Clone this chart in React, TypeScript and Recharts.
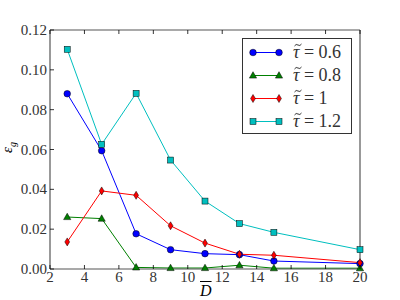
import React from 'react';
import { LineChart, Line, XAxis, YAxis } from 'recharts';

const dValues = [3, 5, 7, 9, 11, 13, 15, 20];
const tau06 = [0.088, 0.0594, 0.0177, 0.0097, 0.0077, 0.0072, 0.004, 0.0027];
const tau08 = [0.0261, 0.0253, 0.0008, 0.0005, 0.0005, 0.0019, 0.0004, 0.0004];
const tau1 = [0.0136, 0.0392, 0.037, 0.0217, 0.013, 0.0074, 0.0069, 0.0032];
const tau12 = [0.1103, 0.0626, 0.0882, 0.0547, 0.0341, 0.0228, 0.0184, 0.0097];
const xTicks = [2, 4, 6, 8, 10, 12, 14, 16, 18, 20];
const yTicks = [0, 0.02, 0.04, 0.06, 0.08, 0.1, 0.12];
const seriesLabels = ['0.6', '0.8', '1', '1.2'];

const data = dValues.map((d, i) => ({ d, a: tau06[i], b: tau08[i], c: tau1[i], e: tau12[i] }));

const FONT = '"Liberation Serif", serif';
const TL = 4;
const MARGIN = 8;

const Marker = ({ kind, cx, cy, color }: any) => {
  if (cx == null || cy == null) return null;
  if (kind === 'circle') return <circle cx={cx} cy={cy} r={3.3} fill={color} stroke="#000" strokeWidth={0.5} />;
  if (kind === 'tri')
    return <polygon points={`${cx},${cy - 3.8} ${cx + 3.6},${cy + 2.6} ${cx - 3.6},${cy + 2.6}`} fill={color} stroke="#000" strokeWidth={0.5} />;
  if (kind === 'diamond')
    return <polygon points={`${cx},${cy - 4} ${cx + 2.4},${cy} ${cx},${cy + 4} ${cx - 2.4},${cy}`} fill={color} stroke="#000" strokeWidth={0.5} />;
  return <rect x={cx - 3} y={cy - 3} width={6} height={6} fill={color} stroke="#000" strokeWidth={0.5} />;
};

const series = [
  { key: 'a', color: '#0000ff', kind: 'circle' },
  { key: 'b', color: '#008000', kind: 'tri' },
  { key: 'c', color: '#ff0000', kind: 'diamond' },
  { key: 'e', color: '#00bfbf', kind: 'square' },
];

const BottomTick = (props: any) => {
  const { x, y, payload } = props;
  const ay = y - MARGIN;
  return (
    <g>
      <line x1={x} x2={x} y1={ay} y2={ay - TL} stroke="#000" strokeWidth={0.8} />
      <text x={x} y={ay + 13} textAnchor="middle" style={{ fontFamily: FONT, fontSize: 15 }} fill="#333">{payload.value}</text>
    </g>
  );
};
const TopTick = (props: any) => {
  const { x, y } = props;
  const ay = y + MARGIN;
  return <line x1={x} x2={x} y1={ay} y2={ay + TL} stroke="#000" strokeWidth={0.8} />;
};
const LeftTick = (props: any) => {
  const { x, y, payload } = props;
  const ax = x + MARGIN;
  return (
    <g>
      <line x1={ax} x2={ax + TL} y1={y} y2={y} stroke="#000" strokeWidth={0.8} />
      <text x={ax - 3} y={y + 5} textAnchor="end" style={{ fontFamily: FONT, fontSize: 15 }} fill="#333">{Number(payload.value).toFixed(2)}</text>
    </g>
  );
};
const RightTick = (props: any) => {
  const { x, y } = props;
  const ax = x - MARGIN;
  return <line x1={ax} x2={ax - TL} y1={y} y2={y} stroke="#000" strokeWidth={0.8} />;
};

const Tau = () => (
  <span style={{ position: 'relative', display: 'inline-block' }}>
    <i>τ</i>
    <svg width={8} height={4} style={{ position: 'absolute', left: 1, top: 1 }}>
      <path d="M0.5,3 Q2,0.5 4,2 T7.5,1" fill="none" stroke="#222" strokeWidth={0.9} />
    </svg>
  </span>
);

const LegendBox = () => (
  <div style={{ position: 'absolute', left: 242, top: 38, width: 110, height: 96, border: '1px solid #333', background: '#fff', boxSizing: 'border-box' }}>
    {series.map((s, i) => (
      <div key={s.key} style={{ position: 'absolute', left: 0, top: 2 + i * 23, height: 23, width: 108, display: 'flex', alignItems: 'center' }}>
        <svg width={44} height={23} style={{ display: 'block' }}>
          <line x1={10} x2={36} y1={11.5} y2={11.5} stroke={s.color} strokeWidth={1} />
          <Marker kind={s.kind} cx={10} cy={11.5} color={s.color} />
          <Marker kind={s.kind} cx={36} cy={11.5} color={s.color} />
        </svg>
        <span style={{ fontFamily: FONT, fontSize: 18, marginLeft: 6, whiteSpace: 'nowrap', color: '#333' }}>
          <Tau /> = {seriesLabels[i]}
        </span>
      </div>
    ))}
  </div>
);

export default function App() {
  return (
    <div style={{ position: 'absolute', left: 0, top: 0, width: 400, height: 300, background: '#fff' }}>
      <LineChart width={400} height={300} data={data} margin={{ top: 0, right: 0, bottom: 0, left: 0 }}>
        <XAxis dataKey="d" type="number" domain={[2, 20]} ticks={xTicks} xAxisId="bottom" orientation="bottom" height={31}
          tickSize={0} tickMargin={MARGIN} tick={<BottomTick />} axisLine={{ stroke: '#555', strokeWidth: 1.2 }} interval={0} />
        <XAxis dataKey="d" type="number" domain={[2, 20]} ticks={xTicks} xAxisId="top" orientation="top" height={30}
          tickSize={0} tickMargin={MARGIN} tick={<TopTick />} axisLine={{ stroke: '#555', strokeWidth: 1.2 }} interval={0} />
        <YAxis type="number" domain={[0, 0.12]} ticks={yTicks} yAxisId="left" orientation="left" width={50}
          tickSize={0} tickMargin={MARGIN} tick={<LeftTick />} axisLine={{ stroke: '#555', strokeWidth: 1.2 }} interval={0} />
        <YAxis type="number" domain={[0, 0.12]} ticks={yTicks} yAxisId="right" orientation="right" width={40}
          tickSize={0} tickMargin={MARGIN} tick={<RightTick />} axisLine={{ stroke: '#555', strokeWidth: 1.2 }} interval={0} />
        {series.map((s) => (
          <Line key={s.key} dataKey={s.key} xAxisId="bottom" yAxisId="left" stroke={s.color} strokeWidth={1}
            isAnimationActive={false} dot={(p: any) => <Marker key={`${s.key}-${p.index}`} kind={s.kind} cx={p.cx} cy={p.cy} color={s.color} />}
            activeDot={false} />
        ))}
      </LineChart>
      <LegendBox />
      <div style={{ position: 'absolute', left: 3, top: 138, fontFamily: FONT, fontSize: 15, transform: 'rotate(-90deg)', transformOrigin: 'center' }}>
        <i>ε</i><sub style={{ fontSize: 10 }}><i>g</i></sub>
      </div>
      <div style={{ position: 'absolute', left: 200, top: 283, fontFamily: FONT, fontSize: 16, lineHeight: '16px' }}>
        <i style={{ textDecoration: 'overline' }}>D</i>
      </div>
    </div>
  );
}
